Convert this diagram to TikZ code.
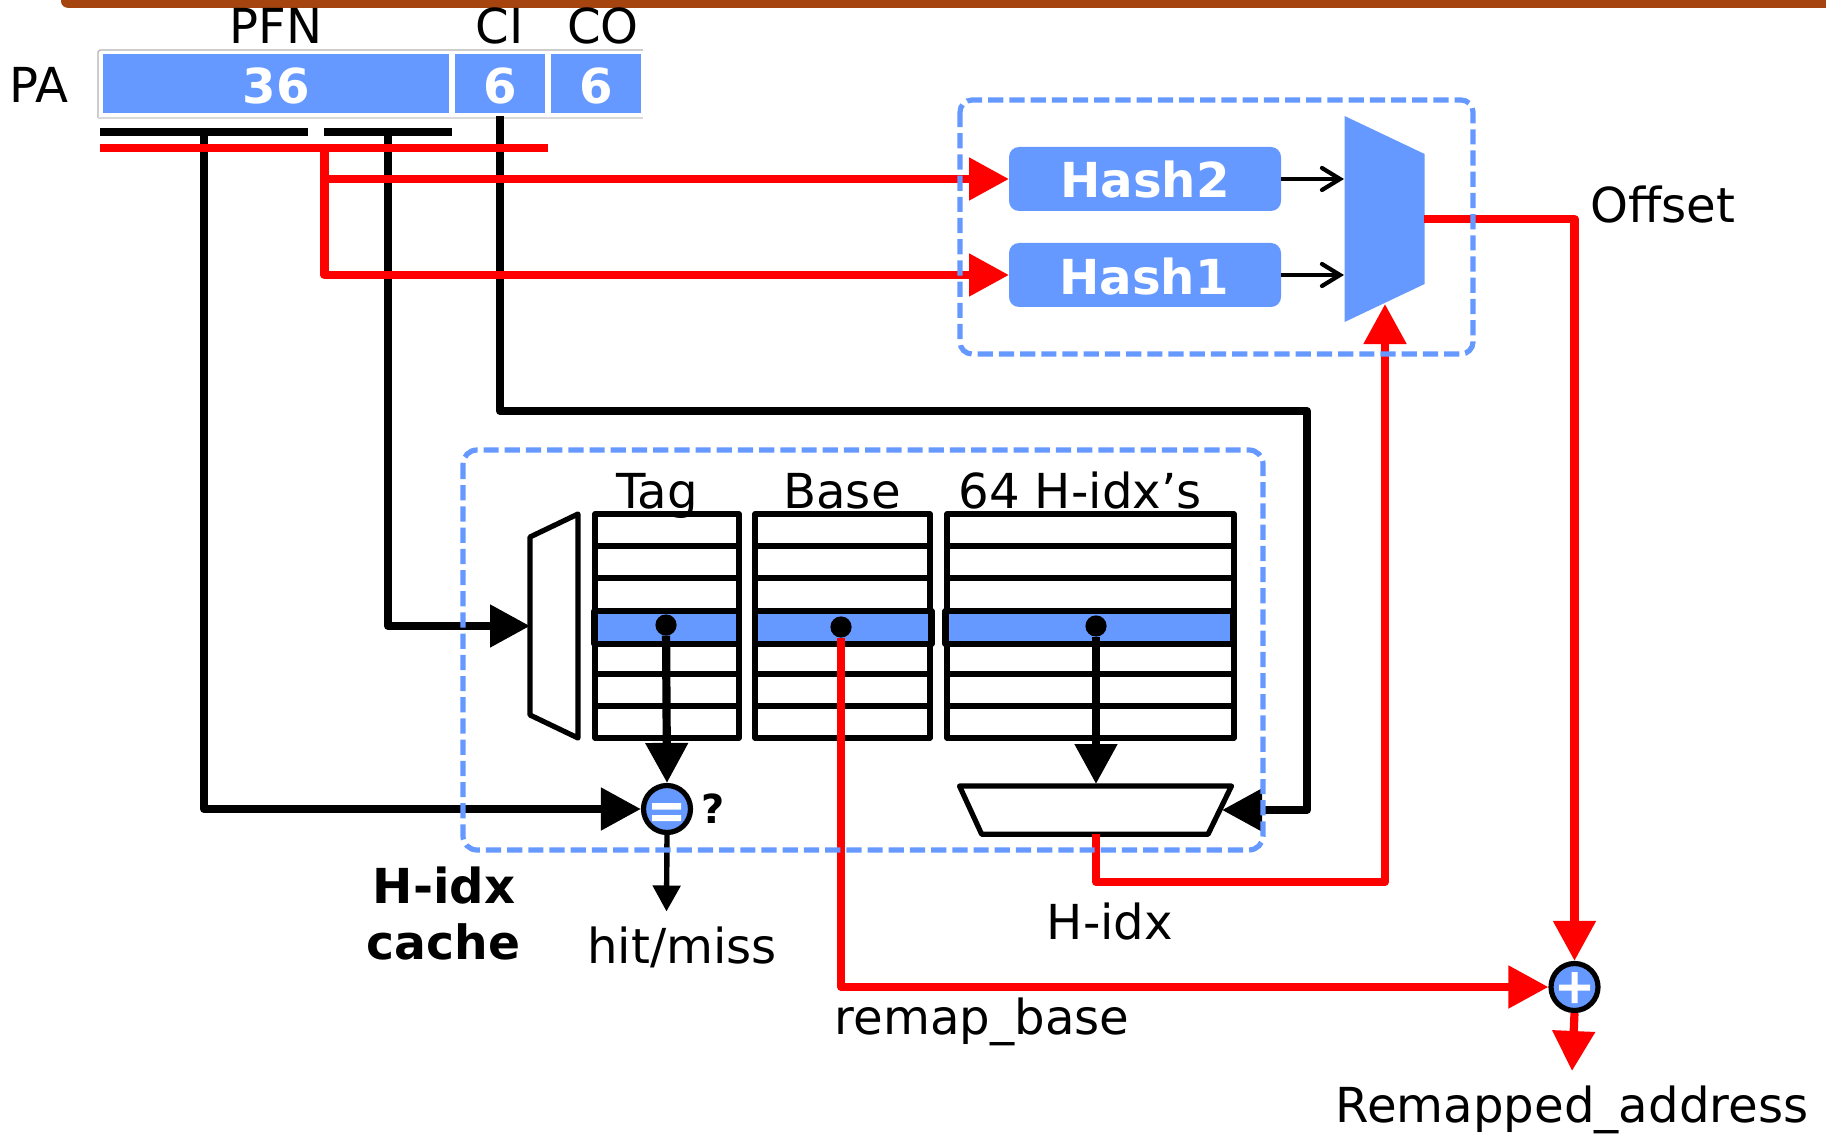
\documentclass[tikz,border=0pt]{standalone}
\usepackage{fontspec}
\setmainfont{DejaVu Sans}
\usetikzlibrary{arrows.meta,shapes.geometric}
\definecolor{blu}{HTML}{6699FF}
\definecolor{brn}{HTML}{A5440F}
\newcommand{\lbl}{\fontsize{24.1}{28}\selectfont}
\newcommand{\bld}{\fontsize{24.1}{28}\selectfont\bfseries}
\tikzset{
  txt/.style={inner sep=0pt,outer sep=0pt,anchor=base,font=\lbl},
  btxt/.style={inner sep=0pt,outer sep=0pt,anchor=base,font=\bld},
  wtxt/.style={btxt,text=white},
  wire/.style={line width=4.1pt,line join=round},
  blk/.style={wire,draw=black},
  rd/.style={wire,draw=red},
  bigtip/.style={-{Triangle[length=20pt,width=20.5pt]}},
  smalltip/.style={-{Triangle[length=13pt,width=13.5pt]}},
  hashbox/.style={fill=blu,draw=none,rounded corners=5pt,minimum width=136pt,minimum height=32pt,inner sep=0pt,outer sep=0pt},
  cellbox/.style={fill=blu,draw=none,inner sep=0pt,outer sep=0pt},
  dashbox/.style={draw=blu,line width=2.6pt,dash pattern=on 7.6pt off 3pt},
  tline/.style={line width=2.6pt,draw=black,line join=round},
  selrow/.style={line width=3.1pt,draw=black,fill=blu,line join=round},
  dotn/.style={circle,fill=black,minimum size=10.6pt,inner sep=0pt,outer sep=0pt},
  opn/.style={circle,draw=black,fill=blu,line width=2.6pt,minimum size=23.5pt,inner sep=0pt,outer sep=1.3pt},
}
\begin{document}
\begin{tikzpicture}[x=0.5pt,y=-0.5pt]
\useasboundingbox (0,0) rectangle (1826,1134);
% top bar
\fill[brn] (61,0) -- (61,1) .. controls (61,5) and (64,8) .. (69,8) -- (1826,8) -- (1826,0) -- cycle;
% PA field
\draw[line width=0.6pt,draw=black!30] (98,118) -- (98,52) -- (100,50) -- (643,50);
\draw[line width=0.6pt,draw=black!15] (98,118) -- (643,118);
\node[cellbox,minimum width=173.2pt,minimum height=29.5pt] (c36) at (276.2,83.5) {};
\node[cellbox,minimum width=45.2pt,minimum height=29.5pt] (cci) at (500.2,83.5) {};
\node[cellbox,minimum width=45.2pt,minimum height=29.5pt] (cco) at (596.2,83.5) {};
\node[txt] (t36) at (276,103.5) {\textcolor{white}{\bfseries 36}};
\node[txt] (t6a) at (500,103.5) {\textcolor{white}{\bfseries 6}};
\node[txt] (t6b) at (596,103.5) {\textcolor{white}{\bfseries 6}};
\node[txt] (tpfn) at (276,44) {PFN};
\node[txt] (tci) at (499.5,44) {CI};
\node[txt] (tco) at (603,44) {CO};
\node[txt] (tpa) at (38.5,102.7) {PA};
% bars
\fill[black] (100,128) rectangle (308,136);
\fill[black] (324,128) rectangle (452,136);
\coordinate (b1) at (204,132);
\coordinate (b2) at (388,132);
\coordinate (b3) at (500,116);
% cache tables
\foreach \l/\r in {595/739,755/930,947/1234}{
  \draw[tline] (\l,514) rectangle (\r,738);
  \foreach \y in {546,578,674,706} \draw[tline] (\l,\y) -- (\r,\y);
}
\draw[selrow] (594.5,611) rectangle (739,644);
\draw[selrow] (755,611) rectangle (931.5,644);
\draw[selrow] (945.5,611) rectangle (1233,644);
\node[dotn] (dtag) at (666,625) {};
\node[dotn] (dbase) at (841,627) {};
\node[dotn] (dh) at (1096,626) {};
% decoders
\draw[tline,fill=white] (530,537) -- (578,514) -- (578,738) -- (530,715) -- cycle;
\coordinate (decin) at (530,626);
\draw[tline,fill=white] (959.5,786) -- (1231.5,786) -- (1208,834.3) -- (981.7,834.3) -- cycle;
\coordinate (mtop) at (1096,784);
\coordinate (mright) at (1222,810);
\coordinate (mbot) at (1096,834);
% operators
\node[opn] (eq) at (667,809) {};
\fill[white] (652,803) rectangle (681,809.5) (652,815) rectangle (681,821);
\node[opn] (plus) at (1574.5,987) {};
\fill[white] (1559,984.5) rectangle (1590,990.5) (1571.5,972) rectangle (1577.5,1003);
% black connectors
\draw[blk,bigtip] (b1) -- (204,809) -- (eq.west);
\draw[blk,bigtip] (b2) -- (388,626) -- (decin);
\draw[blk,bigtip] (b3) -- (500,411) -- (1307,411) -- (1307,810) -- (mright);
\draw[blk,bigtip] (dtag) -- (eq.north);
\draw[blk,bigtip] (dh) -- (mtop);
\coordinate (hm) at (666.5,911.5);
\draw[black,line width=2.7pt,smalltip] (eq.south) -- (hm);
% hash unit
\node[hashbox] (h2) at (1145,179) {};
\node[hashbox] (h1) at (1145,275) {};
\node[wtxt] (th2) at (1145,198) {Hash2};
\node[wtxt] (th1) at (1144,294) {Hash1};
\fill[blu] (1344.6,116) -- (1424.6,154) -- (1424.6,284) -- (1344.6,322) -- cycle;
\coordinate (muxa) at (1344,179);
\coordinate (muxb) at (1344,275);
\coordinate (muxout) at (1424,219);
\coordinate (muxsel) at (1385,304);
\draw[black,line width=2.1pt,-{Straight Barb[length=9pt,width=11pt,line cap=round]}] (h2.east) -- (muxa);
\draw[black,line width=2.1pt,-{Straight Barb[length=9pt,width=11pt,line cap=round]}] (h1.east) -- (muxb);
% red connectors
\fill[red] (100,144) rectangle (548,152);
\coordinate (r0) at (324.5,148);
\draw[rd,bigtip] (r0) -- (324.5,275) -- (h1.west);
\draw[rd,bigtip] (324.5,179) -- (h2.west);
\draw[rd,bigtip] (muxout) -- (1574.5,219) -- (plus.north);
\draw[rd,bigtip] (dbase) -- (841,987) -- (plus.west);
\draw[rd,bigtip] (mbot) -- (1096,882) -- (1385,882) -- (muxsel);
\coordinate (rem) at (1572,1071);
\draw[rd,bigtip] (plus.south) -- (rem);
% dashed frames
\draw[dashbox,rounded corners=6pt] (960,100) rectangle (1473,354);
\draw[dashbox,rounded corners=7pt] (463,450) rectangle (1263,850);
% texts
\node[txt] (toff) at (1663,223) {Offset};
\node[txt] (ttag) at (657,508) {Tag};
\node[txt] (tbase) at (842,508) {Base};
\node[txt] (thidx) at (1080,508) {64 H-idx’s};
\node[btxt] (tq) at (713,823) {\fontsize{20}{22}\selectfont ?};
\node[btxt] (tc1) at (444,903) {H-idx};
\node[btxt,font=\fontsize{23.6}{28}\selectfont\bfseries] (tc2) at (443.7,959) {cache};
\node[txt] (tmiss) at (682,963) {hit/miss};
\node[txt] (thx) at (1110,939) {H-idx};
\node[txt] (trb) at (982,1034) {remap\_base};
\node[txt] (trem) at (1572,1122.7) {Remapped\_address};
\end{tikzpicture}
\end{document}
